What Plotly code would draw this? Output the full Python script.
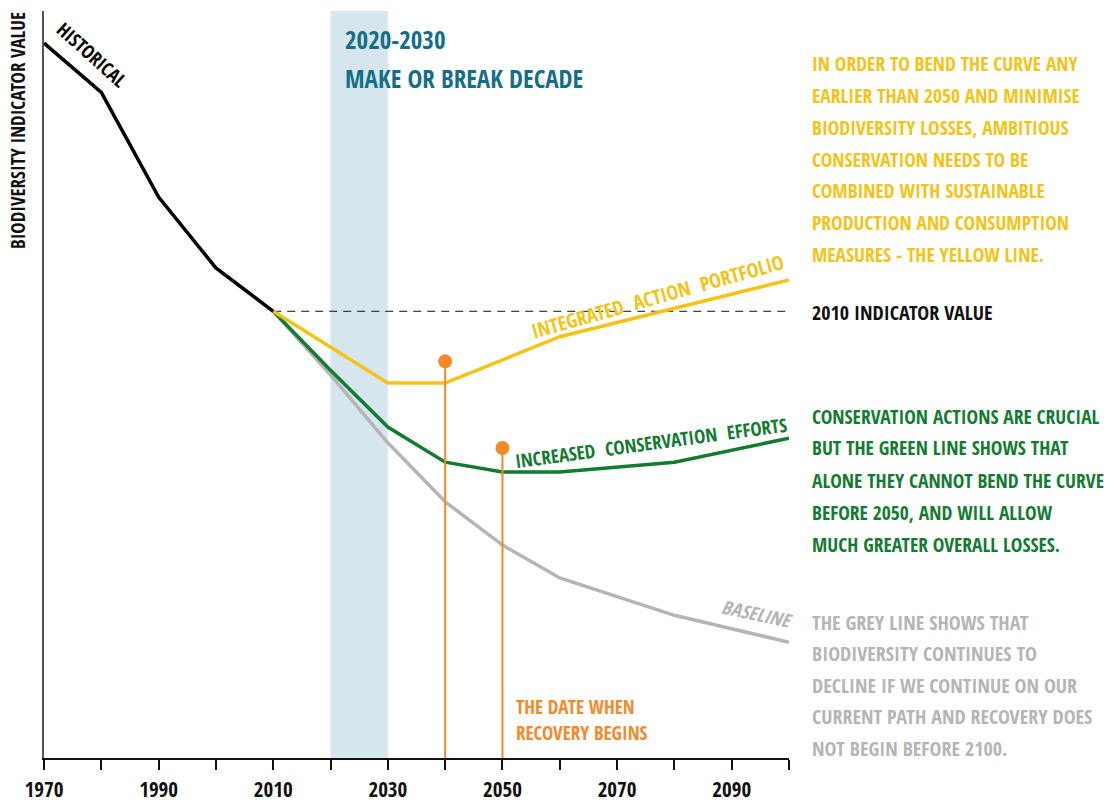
import plotly.graph_objects as go

# indicator values (0-100 scale)
hist_years = [1970, 1980, 1990, 2000, 2010]
hist_vals = [95.7, 89.1, 75.1, 65.6, 59.8]

base_years = [2010, 2020, 2030, 2040, 2050, 2060, 2080, 2100]
base_vals = [59.8, 51.3, 42.2, 34.3, 28.5, 24.1, 19.1, 15.5]

cons_years = [2010, 2020, 2030, 2040, 2050, 2060, 2080, 2100]
cons_vals = [59.8, 51.9, 44.3, 39.6, 38.3, 38.3, 39.6, 42.8]

integ_years = [2010, 2030, 2040, 2060, 2100]
integ_vals = [59.8, 50.2, 50.2, 56.4, 64.0]

ref_2010 = 59.8
recovery_years = [2040, 2050]
recovery_vals = [53.1, 41.5]

tick_years = [1970, 1990, 2010, 2030, 2050, 2070, 2090]

yellow_text = ["IN ORDER TO BEND THE CURVE ANY", "EARLIER THAN 2050 AND MINIMISE",
               "BIODIVERSITY LOSSES, AMBITIOUS", "CONSERVATION NEEDS TO BE",
               "COMBINED WITH SUSTAINABLE", "PRODUCTION AND CONSUMPTION",
               "MEASURES - THE YELLOW LINE."]
green_text = ["CONSERVATION ACTIONS ARE CRUCIAL", "BUT THE GREEN LINE SHOWS THAT",
              "ALONE THEY CANNOT BEND THE CURVE", "BEFORE 2050, AND WILL ALLOW",
              "MUCH GREATER OVERALL LOSSES."]
grey_text = ["THE GREY LINE SHOWS THAT", "BIODIVERSITY CONTINUES TO",
             "DECLINE IF WE CONTINUE ON OUR", "CURRENT PATH AND RECOVERY DOES",
             "NOT BEGIN BEFORE 2100."]

FONT = "Open Sans Condensed, Roboto Condensed, Liberation Sans Narrow, sans-serif"
YELLOW = "#f3c316"
GREEN = "#137b31"
GREY = "#b5b5b5"
ORANGE = "#f4892a"
TEAL = "#146e8a"

W, H = 1114, 802
L, R, T, B = 44, 325, 11, 44


def px(x):
    return (x - L) / (W - L - R)


def py(y):
    return (H - B - y) / (H - T - B)


fig = go.Figure()

# make-or-break decade band
fig.add_vrect(x0=2020, x1=2030, fillcolor="#d6e6ee", line_width=0, layer="below")

# 2010 reference line
fig.add_trace(go.Scatter(x=[2010, 2100], y=[ref_2010, ref_2010], mode="lines",
                         line=dict(color="#111", width=1, dash="8px,6px"), hoverinfo="skip"))

fig.add_trace(go.Scatter(x=base_years, y=base_vals, mode="lines", line=dict(color=GREY, width=3.5)))
fig.add_trace(go.Scatter(x=cons_years, y=cons_vals, mode="lines", line=dict(color=GREEN, width=3.5)))
fig.add_trace(go.Scatter(x=integ_years, y=integ_vals, mode="lines", line=dict(color=YELLOW, width=3.5)))
fig.add_trace(go.Scatter(x=hist_years, y=hist_vals, mode="lines", line=dict(color="#000", width=3.5)))

# recovery start markers
for yr, v in zip(recovery_years, recovery_vals):
    fig.add_trace(go.Scatter(x=[yr, yr], y=[0, v], mode="lines", line=dict(color=ORANGE, width=2),
                             cliponaxis=False))
    fig.add_trace(go.Scatter(x=[yr], y=[v], mode="markers", marker=dict(color=ORANGE, size=14)))


def label(x, y, text, color, size=20, angle=0, xanchor="center", italic=False):
    if italic:
        text = "<i>" + text + "</i>"
    fig.add_annotation(x=px(x), y=py(y), xref="paper", yref="paper", text=text, showarrow=False,
                       textangle=angle, xanchor=xanchor, yanchor="middle",
                       font=dict(family=FONT, size=size, color=color))


# header of the band
label(343, 39, "2020-2030", TEAL, size=25, xanchor="left")
label(343, 78, "MAKE OR BREAK DECADE", TEAL, size=25, xanchor="left")

# line labels
label(92, 55, "HISTORICAL", "#000", size=19, angle=42)
label(657, 296, "INTEGRATED&nbsp;&nbsp;ACTION&nbsp;&nbsp;PORTFOLIO", YELLOW, size=20, angle=-15.6)
label(651, 443, "INCREASED&nbsp;&nbsp;CONSERVATION&nbsp;&nbsp;EFFORTS", GREEN, size=19, angle=-7.7)
label(757, 614, "BASELINE", GREY, size=19, angle=12, italic=True)

# recovery annotation
label(514, 707, "THE DATE WHEN", ORANGE, size=19, xanchor="left")
label(514, 733, "RECOVERY BEGINS", ORANGE, size=19, xanchor="left")

# right-hand explanations
label(810, 312, "2010 INDICATOR VALUE", "#111", size=20, xanchor="left")
for i, line in enumerate(yellow_text):
    label(810, 64 + i * 31.7, line, YELLOW, size=19.5, xanchor="left")
for i, line in enumerate(green_text):
    label(810, 416 + i * 32, line, GREEN, size=19.5, xanchor="left")
for i, line in enumerate(grey_text):
    label(810, 622 + i * 31.5, line, GREY, size=20, xanchor="left")

# y axis title
label(18, 131, "BIODIVERSITY INDICATOR VALUE", "#111", size=19, angle=-90)

fig.update_xaxes(range=[1970, 2100], tickvals=tick_years, showgrid=False, zeroline=False,
                 showline=True, linecolor="#111", linewidth=1.5, automargin=False,
                 ticks="outside", ticklen=10, tickwidth=1.5, tickcolor="#111", ticklabelstandoff=2,
                 minor=dict(dtick=10, tick0=1970, ticks="outside", ticklen=10, tickwidth=1.5, tickcolor="#111"),
                 tickfont=dict(family=FONT, size=21, color="#111"))
fig.update_yaxes(range=[0, 100], showgrid=False, zeroline=False, showticklabels=False, automargin=False,
                 showline=True, linecolor="#555", linewidth=2)

fig.update_layout(width=W, height=H, autosize=False, margin=dict(l=L, r=R, t=T, b=B),
                  plot_bgcolor="white", paper_bgcolor="white", showlegend=False,
                  font=dict(family=FONT))

# the page's default body margin would shift the figure by 8px
fig.write_html("out.html", config={"responsive": False, "displayModeBar": False},
               post_script="document.body.style.margin='0px';")
